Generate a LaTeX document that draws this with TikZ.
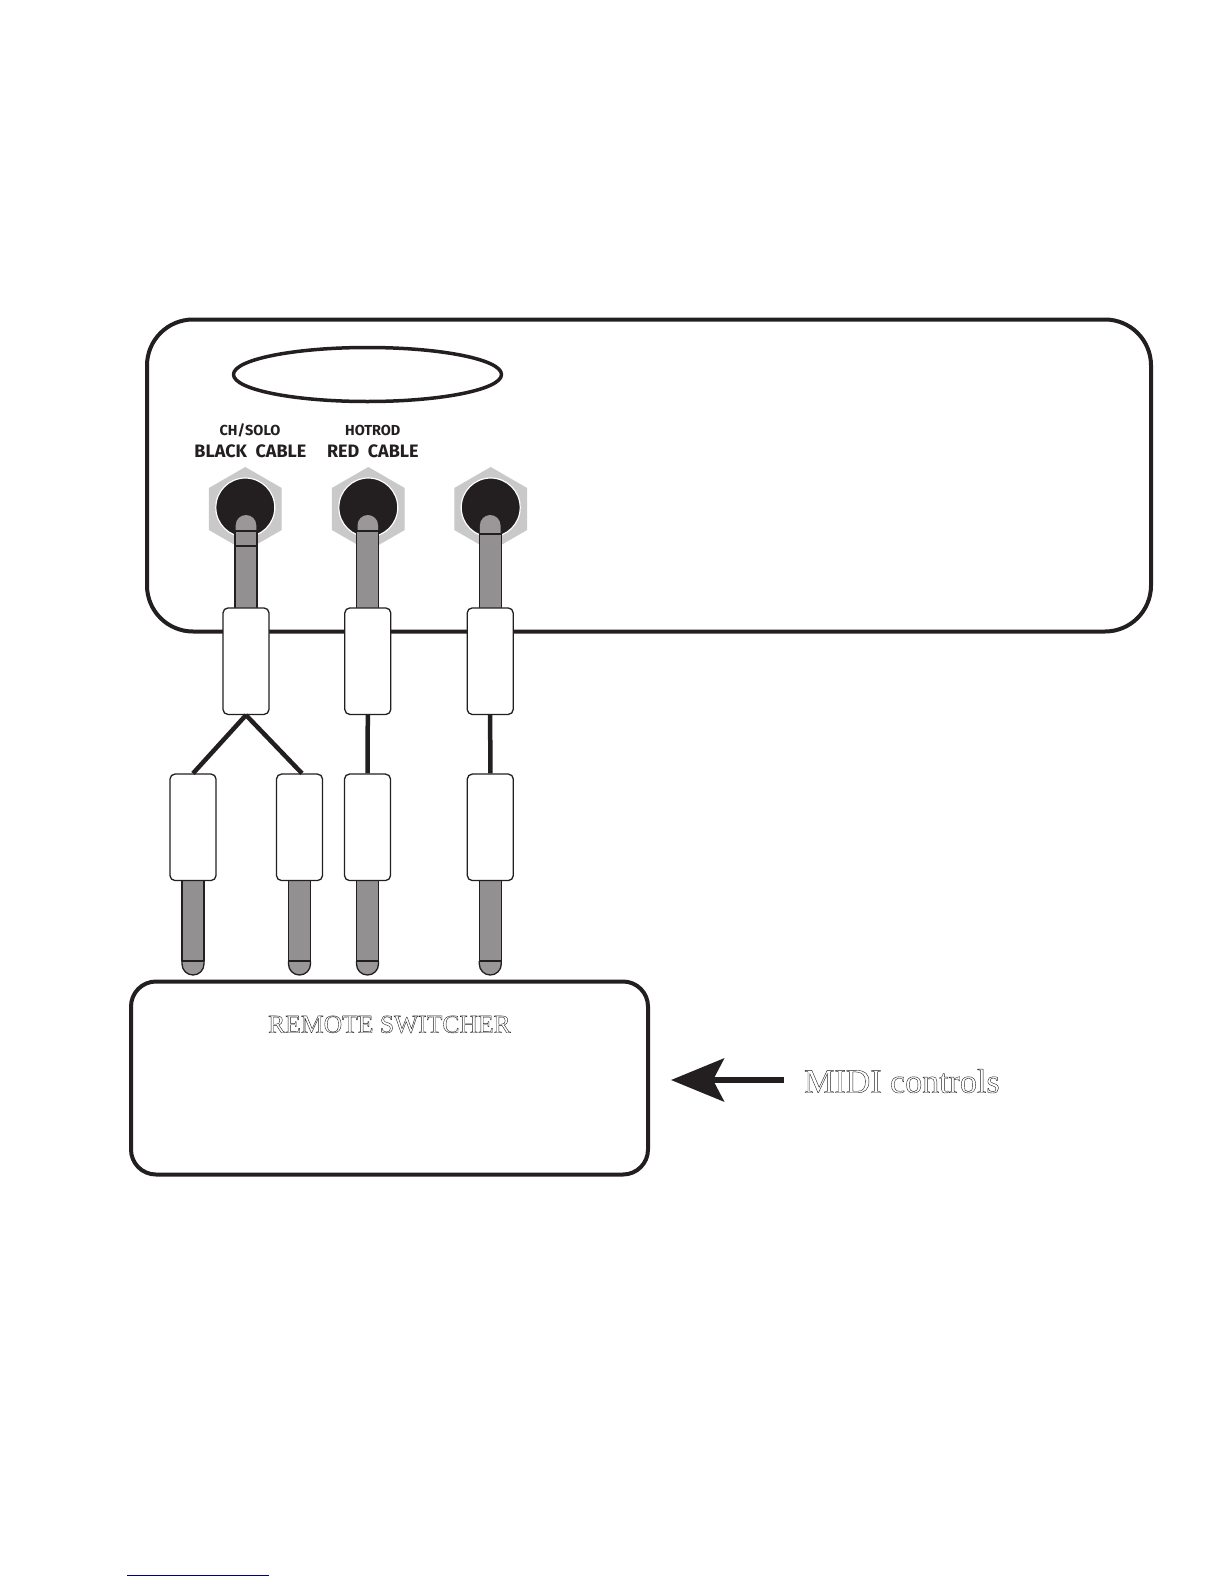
\documentclass[tikz,border=0pt]{standalone}
\usepackage{fontspec}
\setmainfont{Liberation Serif}
\newfontfamily\jackfont{Fira Sans}
\usetikzlibrary{arrows.meta,shapes.geometric}
\definecolor{ampInk}{HTML}{231F20}
\definecolor{ampPlug}{HTML}{939091}
\definecolor{ampTip}{HTML}{9A9798}
\definecolor{ampNut}{HTML}{C9C9C9}
\definecolor{ampLink}{HTML}{000080}
\newcommand{\outlinetext}[1]{\special{pdf:code q 1 Tr 0.4 w}#1\special{pdf:code Q}}
\tikzset{
  amp diagram/.style={text=ampInk, line cap=butt, line join=round},
  panel box/.style={draw=ampInk, fill=white, line width=4pt, inner sep=0pt},
  jack nut/.style={regular polygon, regular polygon sides=6, shape border rotate=30,
    fill=ampNut, minimum size=84pt, inner sep=0pt},
  jack hole/.style={circle, fill=ampInk, draw=white, line width=1.2pt,
    minimum size=59pt, inner sep=0pt},
  plug sleeve/.style={rectangle, draw=ampInk, fill=white, line width=1.3pt,
    rounded corners=5pt, minimum width=46pt, minimum height=106.5pt, inner sep=0pt},
  plug shaft/.style={draw=ampInk, fill=ampPlug, line width=1.3pt},
  plug tip/.style={fill=ampTip},
  plug bar/.style={draw=ampInk, line width=2.5pt},
  cable line/.style={draw=ampInk, line width=4.5pt},
  midi arrow/.style={-{Stealth[length=53pt,width=43pt,inset=11pt]}, draw=ampInk, line width=6pt},
  jack small/.style={font=\jackfont\bfseries\fontsize{14.5}{16}\selectfont, anchor=base},
  jack big/.style={font=\jackfont\bfseries\fontsize{18}{20}\selectfont, anchor=base},
  outline label/.style={anchor=base west, inner sep=0pt}
}
\begin{document}
\begin{tikzpicture}[amp diagram,x=1pt,y=-1pt]
\useasboundingbox (0,0) rectangle (1224,1584);
\node[panel box, rounded corners=46pt, minimum width=1004pt, minimum height=312pt] (amp) at (649,475.5) {};
\node[panel box, ellipse, line width=3.5pt, minimum width=268pt, minimum height=54pt] (nameplate) at (367.5,374.5) {};
\node[jack small] (chsolo) at (250,435) {CH/SOLO};
\node[jack big] (blackcable) at (250.4,457.5) {BLACK\ \ CABLE};
\node[jack small] (hotrod) at (372.8,435) {HOTROD};
\node[jack big] (redcable) at (372.8,457.5) {RED\ \ CABLE};
\foreach \jack/\hx/\cx/\bar in {a/245.3/246/531,b/368.3/367.8/531,c/490.7/490.2/534}{
  \node[jack nut] (nut \jack) at (\hx,509) {};
  \node[jack hole] (hole \jack) at (\hx,507.5) {};
  \fill[plug tip] (\cx-10.3,\bar) -- (\cx-10.3,525.3) arc[start angle=180,end angle=360,radius=10.3] -- (\cx+10.3,\bar) -- cycle;
  \draw[plug shaft] (\cx-11,\bar) -- (\cx-11,612) -- (\cx+11,612) -- (\cx+11,\bar);
  \draw[plug bar] (\cx-11,\bar) -- (\cx+11,\bar);
  \node[plug sleeve] (top \jack) at (\cx,661.2) {};
}
\draw[plug bar] (235,546) -- (257,546);
\foreach \plug/\cx in {a/193,b/299.5,c/367.5,d/490.3}{
  \draw[plug shaft, fill=ampTip] (\cx-11,961) -- (\cx-11,964) arc[start angle=180,end angle=0,radius=11] -- (\cx+11,961);
  \draw[plug shaft] (\cx-11,878) rectangle (\cx+11,961);
  \draw[plug bar] (\cx-11,961) -- (\cx+11,961);
  \node[plug sleeve] (low \plug) at (\cx,827.3) {};
}
\draw[cable line] (top a.south) -- (low a.north);
\draw[cable line] (top a.south) -- ([xshift=2.5pt]low b.north);
\draw[cable line] (top b.south) -- (low c.north);
\draw[cable line] (top c.south) -- (low d.north);
\node[panel box, rounded corners=25pt, minimum width=517pt, minimum height=193pt] (remote) at (389.5,1078) {};
\node[outline label] (remote title) at (268,1032.7) {\fontsize{25.6}{30}\selectfont\outlinetext{REMOTE SWITCHER}};
\coordinate (midi start) at (784,1080);
\coordinate (midi end) at (671,1080);
\draw[midi arrow] (midi start) -- (midi end);
\node[outline label] (midi title) at (804,1092.7) {\fontsize{34}{38}\selectfont\outlinetext{MIDI controls}};
\draw[ampLink, line width=1pt] (127,1575) -- (269,1575);
\end{tikzpicture}
\end{document}
